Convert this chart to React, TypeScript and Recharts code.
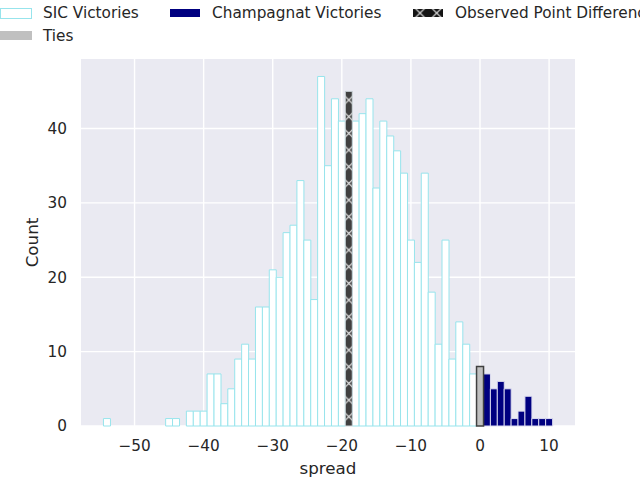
import React from 'react';
import { BarChart, Bar, XAxis, YAxis, CartesianGrid } from 'recharts';

// histogram counts per point spread (SIC score minus Champagnat score)
const SIC_SPREADS = [
    -54, -45, -44, -42, -41, -40, -39, -38, -37, -36, -35, -34, -33, -32, -31,
    -30, -29, -28, -27, -26, -25, -24, -23, -22, -21, -20, -18, -17, -16, -15,
    -14, -13, -12, -11, -10, -9, -8, -7, -6, -5, -4, -3, -2, -1,
];
const SIC_COUNTS = [
    1, 1, 1, 2, 2, 2, 7, 7, 3, 5, 9, 11, 9, 16, 16,
    21, 20, 26, 27, 33, 25, 17, 47, 35, 44, 41, 41, 42, 44, 32,
    41, 39, 37, 34, 25, 22, 34, 18, 11, 25, 9, 14, 11, 7,
];
const TIE_SPREADS = [0];
const TIE_COUNTS = [8];
const CHAMP_SPREADS = [1, 2, 3, 4, 5, 6, 7, 8, 9, 10];
const CHAMP_COUNTS = [7, 5, 6, 5, 1, 2, 4, 1, 1, 1];
const OBSERVED_SPREADS = [-19];
const OBSERVED_COUNTS = [45];

const X_TICKS = [-50, -40, -30, -20, -10, 0, 10];
const Y_TICKS = [0, 10, 20, 30, 40];
const X_DOMAIN: [number, number] = [-57.75, 13.75];
const Y_DOMAIN: [number, number] = [0, 49.35];

const FONT = '"DejaVu Sans", sans-serif';
const TEXT = '#262626';
const SIC_EDGE = '#97e4ec';
const NAVY = '#000080';
const SILVER = '#c0c0c0';
const HATCH_BG = '#404040';

type Row = { spread: number; sic?: number; champ?: number; tie?: number; observed?: number };

const buildRows = (): Row[] => {
    const map = new Map<number, Row>();
    const add = (spreads: number[], counts: number[], key: keyof Row) => {
        spreads.forEach((s, i) => {
            const row = map.get(s) || { spread: s };
            (row as any)[key] = counts[i];
            map.set(s, row);
        });
    };
    add(SIC_SPREADS, SIC_COUNTS, 'sic');
    add(TIE_SPREADS, TIE_COUNTS, 'tie');
    add(CHAMP_SPREADS, CHAMP_COUNTS, 'champ');
    add(OBSERVED_SPREADS, OBSERVED_COUNTS, 'observed');
    return Array.from(map.values()).sort((a, b) => a.spread - b.spread);
};

const rows = buildRows();

const minus = (v: number) => String(v).replace('-', '\u2212');

const HatchDef = ({ id, x, y, bg }: { id: string; x: number; y: number; bg: string }) => (
    <pattern id={id} patternUnits="userSpaceOnUse" x={x} y={y} width={16.67} height={16.67}>
        <rect width={16.67} height={16.67} fill={bg} />
        <path d="M0,0 L16.67,16.67 M0,16.67 L16.67,0" stroke="#ffffff" strokeWidth={1} />
    </pattern>
);

const XLabel = (props: any) => {
    const { viewBox } = props;
    return (
        <text
            x={viewBox.x + viewBox.width / 2}
            y={viewBox.y + viewBox.height - 6}
            textAnchor="middle"
            fontFamily={FONT}
            fontSize={16.7}
            fill={TEXT}
        >
            spread
        </text>
    );
};

const YLabel = (props: any) => {
    const { viewBox } = props;
    const cx = viewBox.x + 32;
    const cy = viewBox.y + viewBox.height / 2;
    return (
        <text
            x={cx}
            y={cy}
            transform={`rotate(-90, ${cx}, ${cy})`}
            textAnchor="middle"
            dominantBaseline="central"
            fontFamily={FONT}
            fontSize={16.7}
            fill={TEXT}
        >
            Count
        </text>
    );
};

const legendText: React.CSSProperties = {
    position: 'absolute',
    fontFamily: FONT,
    fontSize: 15.3,
    color: TEXT,
    whiteSpace: 'nowrap',
    lineHeight: '18px',
};

const ChartLegend = () => (
    <div style={{ position: 'absolute', left: 0, top: 0, width: 640, height: 48, pointerEvents: 'none' }}>
        <div style={{ position: 'absolute', left: 0, top: 8, width: 30, height: 9, background: '#fff', border: `1px solid ${SIC_EDGE}` }} />
        <div style={{ ...legendText, left: 43, top: 4 }}>SIC Victories</div>
        <div style={{ position: 'absolute', left: 0, top: 31, width: 32, height: 9, background: SILVER }} />
        <div style={{ ...legendText, left: 43, top: 27 }}>Ties</div>
        <div style={{ position: 'absolute', left: 170, top: 9, width: 30, height: 8, background: NAVY }} />
        <div style={{ ...legendText, left: 212, top: 4 }}>Champagnat Victories</div>
        <svg style={{ position: 'absolute', left: 413, top: 9 }} width={30} height={8}>
            <defs>
                <HatchDef id="legendHatch" x={-1.3} y={-4.3} bg="#141414" />
            </defs>
            <rect width={30} height={8} fill="url(#legendHatch)" />
        </svg>
        <div style={{ ...legendText, left: 455, top: 4 }}>Observed Point Difference</div>
    </div>
);

const App: React.FC = () => {
    return (
        <div style={{ position: 'absolute', left: 0, top: 0, width: 640, height: 480, overflow: 'hidden', background: '#fff' }}>
            <BarChart
                width={640}
                height={480}
                data={rows}
                margin={{ top: 59, right: 65, bottom: 0, left: 0 }}
                barCategoryGap={0}
                barGap={0}
            >
                <defs>
                    <HatchDef id="obsHatch" x={340.5} y={91.7} bg={HATCH_BG} />
                </defs>
                <CartesianGrid fill="#eaeaf2" stroke="#ffffff" strokeWidth={1.4} horizontalValues={Y_TICKS} verticalValues={X_TICKS} />
                <XAxis
                    type="number"
                    dataKey="spread"
                    domain={X_DOMAIN}
                    ticks={X_TICKS}
                    height={54}
                    axisLine={false}
                    tickLine={false}
                    tickSize={0}
                    tickMargin={14}
                    tick={{ fill: TEXT, fontSize: 15.3, fontFamily: FONT }}
                    tickFormatter={minus}
                    label={<XLabel />}
                />
                <YAxis
                    type="number"
                    domain={Y_DOMAIN}
                    ticks={Y_TICKS}
                    width={81}
                    axisLine={false}
                    tickLine={false}
                    tickSize={0}
                    tickMargin={14}
                    tick={{ fill: TEXT, fontSize: 15.3, fontFamily: FONT }}
                    label={<YLabel />}
                />
                <Bar dataKey="sic" stackId="h" fill="#ffffff" stroke={SIC_EDGE} strokeWidth={1} isAnimationActive={false} />
                <Bar dataKey="champ" stackId="h" fill={NAVY} stroke="#dcdcf0" strokeWidth={1} isAnimationActive={false} />
                <Bar dataKey="tie" stackId="h" fill={SILVER} stroke={HATCH_BG} strokeWidth={1.5} isAnimationActive={false} />
                <Bar dataKey="observed" stackId="h" fill="url(#obsHatch)" stroke="#cdd6da" strokeWidth={1} isAnimationActive={false} />
            </BarChart>
            <ChartLegend />
        </div>
    );
};

export default App;
